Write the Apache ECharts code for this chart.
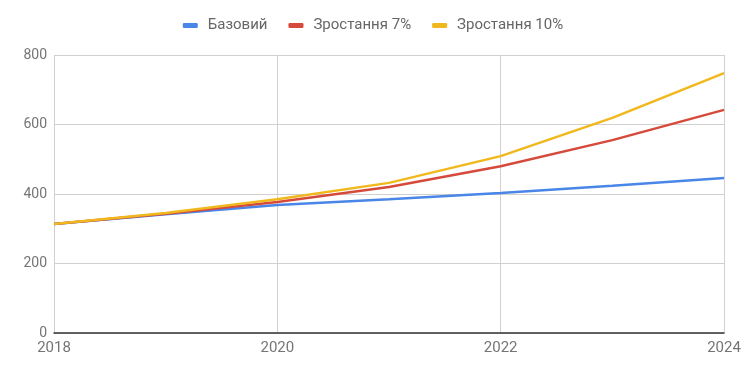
<!DOCTYPE html>
<html><head><meta charset="utf-8">
<script src="https://cdn.jsdelivr.net/npm/echarts@6/dist/echarts.min.js"></script>
<style>html,body{margin:0;padding:0;background:#fff}#c{width:746px;height:369px}</style>
</head><body><div id="c"></div>
<script>
const years = [2018, 2019, 2020, 2021, 2022, 2023, 2024];
const seriesNames = ['Базовий', 'Зростання 7%', 'Зростання 10%'];
const baseVals = [314, 342, 368, 385, 403, 424, 446];
const grow7Vals = [314, 343, 377, 420, 480, 555, 642];
const grow10Vals = [314, 345, 385, 432, 509, 619, 748];
const colors = ['#4a86e8', '#d64a3b', '#f1b81d'];
const allVals = [baseVals, grow7Vals, grow10Vals];

const chart = echarts.init(document.getElementById('c'));
chart.setOption({
  animation: false,
  textStyle: { fontFamily: 'Roboto' },
  legend: {
    top: 13, left: 'center',
    itemWidth: 15, itemHeight: 5, itemGap: 21,
    icon: 'roundRect',
    textStyle: { color: '#666', fontSize: 15, fontFamily: 'Roboto', padding: [0, 0, 0, 5] },
    data: seriesNames
  },
  grid: { left: 54, right: 22, top: 55, bottom: 36 },
  xAxis: {
    type: 'value', min: 2018, max: 2024, interval: 2,
    axisLine: { show: true, lineStyle: { color: '#333', width: 1.5 } },
    axisTick: { show: false },
    axisLabel: { color: '#757575', fontSize: 15, margin: 8, formatter: v => String(v) },
    splitLine: { show: true, lineStyle: { color: '#d0d0d0', width: 1 } }
  },
  yAxis: {
    type: 'value', min: 0, max: 800, interval: 200,
    axisLine: { show: false }, axisTick: { show: false },
    axisLabel: { color: '#757575', fontSize: 14, margin: 7 },
    splitLine: { lineStyle: { color: '#d0d0d0', width: 1 } }
  },
  series: seriesNames.map((n, i) => ({
    name: n, type: 'line', showSymbol: false,
    data: years.map((y, j) => [y, allVals[i][j]]),
    lineStyle: { color: colors[i], width: 2.5 },
    itemStyle: { color: colors[i] },
    z: 2 + i
  }))
});
</script></body></html>
